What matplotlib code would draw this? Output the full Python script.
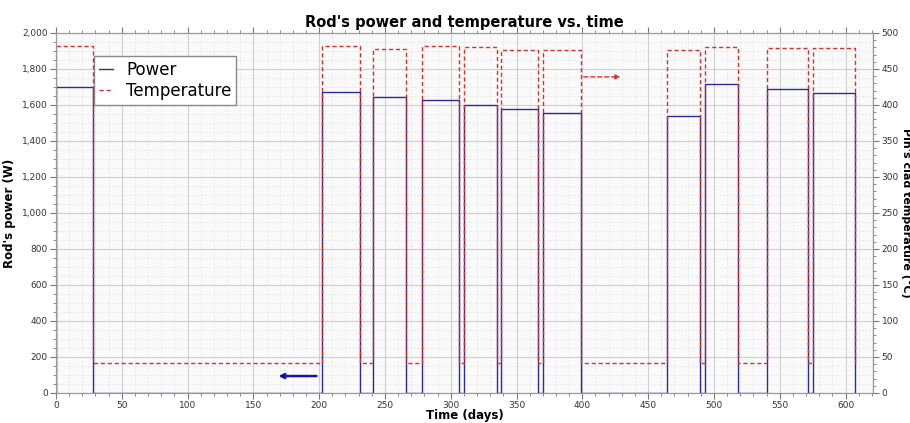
import numpy as np
import matplotlib.pyplot as plt
from matplotlib.ticker import MultipleLocator, FuncFormatter

# step change times (days) and values after each change
time_days = [0, 0, 28, 202, 231, 241, 266, 278, 306, 310, 335, 338, 366, 370, 399,
             464.5, 489.5, 493.5, 518.5, 540.5, 571.5, 575.5, 607]
power_w = [0, 1700, 0, 1670, 0, 1645, 0, 1625, 0, 1600, 0, 1575, 0, 1555, 0,
           1540, 0, 1715, 0, 1690, 0, 1665, 0]
temp_c = [0, 482, 41, 482, 41, 478, 41, 482, 41, 480, 41, 477, 41, 476, 41,
          477, 41, 480, 41, 479, 41, 479, 41]

# axis-hint arrows: (x_start, x_end, y)
power_arrow = (200, 167, 94)
temp_arrow = (399, 431, 439)

blue = "#2b2ba0"
red = "#d8302c"

fig = plt.figure(figsize=(9.1, 4.23), dpi=100)
ax = fig.add_axes([0.0615, 0.071, 0.898, 0.851])
ax2 = ax.twinx()

ax.set_facecolor("#fafafa")
ax.set_xlim(0, 621)
ax.set_ylim(0, 2000)
ax2.set_ylim(0, 500)

ax.xaxis.set_major_locator(MultipleLocator(50))
ax.xaxis.set_minor_locator(MultipleLocator(10))
ax.yaxis.set_major_locator(MultipleLocator(200))
ax.yaxis.set_minor_locator(MultipleLocator(50))
ax2.yaxis.set_major_locator(MultipleLocator(50))
ax2.yaxis.set_minor_locator(MultipleLocator(10))
ax.yaxis.set_major_formatter(FuncFormatter(lambda v, p: f"{v:,.0f}"))

ax.grid(which="major", color="#cfcfcf", lw=0.8)
ax.grid(which="minor", color="#e4e4e4", lw=0.5, ls=(0, (3, 2)))
ax.set_axisbelow(True)

ln1, = ax.plot(time_days, power_w, drawstyle="steps-post", color=blue, lw=1.0, label="Power")
ln2, = ax2.plot(time_days, temp_c, drawstyle="steps-post", color=red, lw=1.0,
                ls=(0, (3, 2)), label="Temperature")

ax.annotate("", xy=(power_arrow[1], power_arrow[2]), xytext=(power_arrow[0], power_arrow[2]),
            arrowprops=dict(arrowstyle="-|>", color="#1414a8", lw=1.8, mutation_scale=7))
ax2.annotate("", xy=(temp_arrow[1], temp_arrow[2]), xytext=(temp_arrow[0], temp_arrow[2]),
             arrowprops=dict(arrowstyle="-|>", color=red, lw=1.0, ls=(0, (3, 2)), mutation_scale=7))

for a in (ax, ax2):
    for s in a.spines.values():
        s.set_color("#9a9a9a")
        s.set_linewidth(0.8)
    a.tick_params(which="both", direction="out", colors="#777777", labelcolor="#333333",
                  labelsize=6.5, pad=1.5)
    a.tick_params(which="major", length=4.5)
    a.tick_params(which="minor", length=2.5)
ax.tick_params(which="both", top=True)

ax.set_title("Rod's power and temperature vs. time", fontsize=10.5, fontweight="bold", pad=4)
ax.set_xlabel("Time (days)", fontsize=8.5, fontweight="bold", labelpad=-1)
ax.set_ylabel("Rod's power (W)", fontsize=8.5, fontweight="bold", labelpad=4)
ax2.set_ylabel("Pin's clad temperature (°C)", fontsize=8, fontweight="bold",
               rotation=-90, va="bottom", labelpad=1.5)

leg = ax.legend(handles=[ln1, ln2], loc="upper left", bbox_to_anchor=(0.047, 0.937),
                borderaxespad=0, fontsize=12, handlelength=0.8, handletextpad=0.8,
                fancybox=False, framealpha=1, borderpad=0.3, labelspacing=0.2)
leg.get_frame().set_edgecolor("#8a8a8a")

fig.savefig("out.png", dpi=100)
